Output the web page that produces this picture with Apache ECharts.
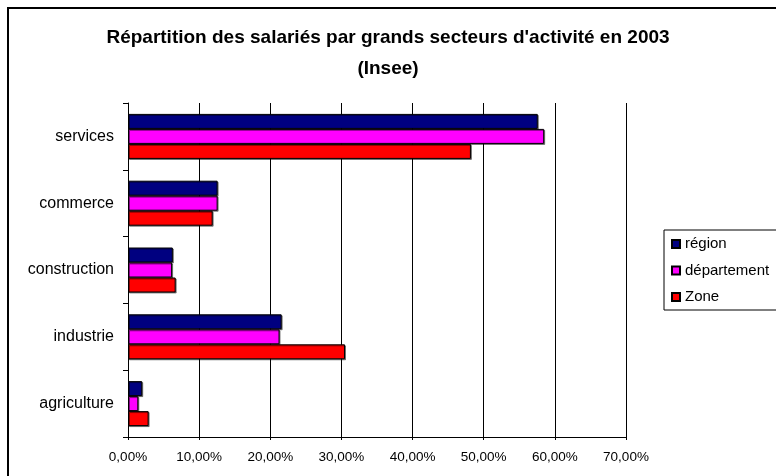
<!DOCTYPE html>
<html>
<head>
<meta charset="utf-8">
<script src="https://cdn.jsdelivr.net/npm/echarts@6/dist/echarts.min.js"></script>
<style>
  html, body { margin: 0; padding: 0; background: #fff; }
  #chart { width: 776px; height: 476px; }
</style>
</head>
<body>
<div id="chart"></div>
<script>
  // secteurs, de bas en haut
  const categories = ['agriculture', 'industrie', 'construction', 'commerce', 'services']
  const region = [2.0, 21.6, 6.3, 12.6, 57.6]
  const departement = [1.45, 21.3, 6.2, 12.6, 58.5]
  const zone = [2.9, 30.5, 6.7, 11.9, 48.2]
  const seriesNames = ['région', 'département', 'Zone']
  const colors = ['#000080', '#ff00ff', '#ff0000']

  const font = 'Liberation Sans, Arial, sans-serif'
  const chart = echarts.init(document.getElementById('chart'))

  const barStyle = (c) => ({
    color: c,
    borderColor: '#000',
    borderWidth: 1,
    shadowColor: 'rgba(0,0,0,0.45)',
    shadowOffsetX: 1,
    shadowOffsetY: 1
  })

  chart.setOption({
    animation: false,
    title: {
      text: 'Répartition des salariés par grands secteurs d\'activité en 2003\n(Insee)',
      left: 'center',
      top: 17,
      textStyle: { fontFamily: font, fontSize: 19, fontWeight: 'bold', color: '#000', lineHeight: 31 }
    },
    graphic: [{
      type: 'rect',
      shape: { x: 8, y: 8, width: 820, height: 520 },
      style: { fill: 'none', stroke: '#000', lineWidth: 2 }
    }, {
      type: 'rect',
      shape: { x: 664, y: 230, width: 140, height: 80 },
      style: { fill: '#fff', stroke: '#000', lineWidth: 1 },
      z: -1
    }],
    legend: {
      data: seriesNames,
      orient: 'vertical',
      left: 671,
      top: 236,
      padding: 0,
      itemWidth: 8,
      itemHeight: 8,
      itemGap: 10.5,
      icon: 'rect',
      textStyle: { fontFamily: font, fontSize: 15, lineHeight: 16, color: '#000' }
    },
    grid: { left: 128, right: 150, top: 103, bottom: 39 },
    xAxis: {
      type: 'value',
      min: 0,
      max: 70,
      interval: 10,
      axisLine: { show: true, lineStyle: { color: '#000' } },
      axisTick: { show: true, length: 3, lineStyle: { color: '#000' } },
      splitLine: { show: true, lineStyle: { color: '#000', width: 1 } },
      axisLabel: {
        fontFamily: font, fontSize: 13.5, color: '#000', margin: 13,
        formatter: (v) => v.toFixed(2).replace('.', ',') + '%'
      }
    },
    yAxis: {
      type: 'category',
      data: categories,
      axisLine: { show: true, lineStyle: { color: '#000' } },
      axisTick: { show: true, length: 5, lineStyle: { color: '#000' } },
      axisLabel: { fontFamily: font, fontSize: 16, color: '#000', margin: 14 }
    },
    series: [
      { name: seriesNames[0], type: 'bar', data: region, barWidth: 15, barGap: '0%', itemStyle: barStyle(colors[0]) },
      { name: seriesNames[1], type: 'bar', data: departement, barWidth: 15, barGap: '0%', itemStyle: barStyle(colors[1]) },
      { name: seriesNames[2], type: 'bar', data: zone, barWidth: 15, barGap: '0%', itemStyle: barStyle(colors[2]) }
    ]
  })
</script>
</body>
</html>
